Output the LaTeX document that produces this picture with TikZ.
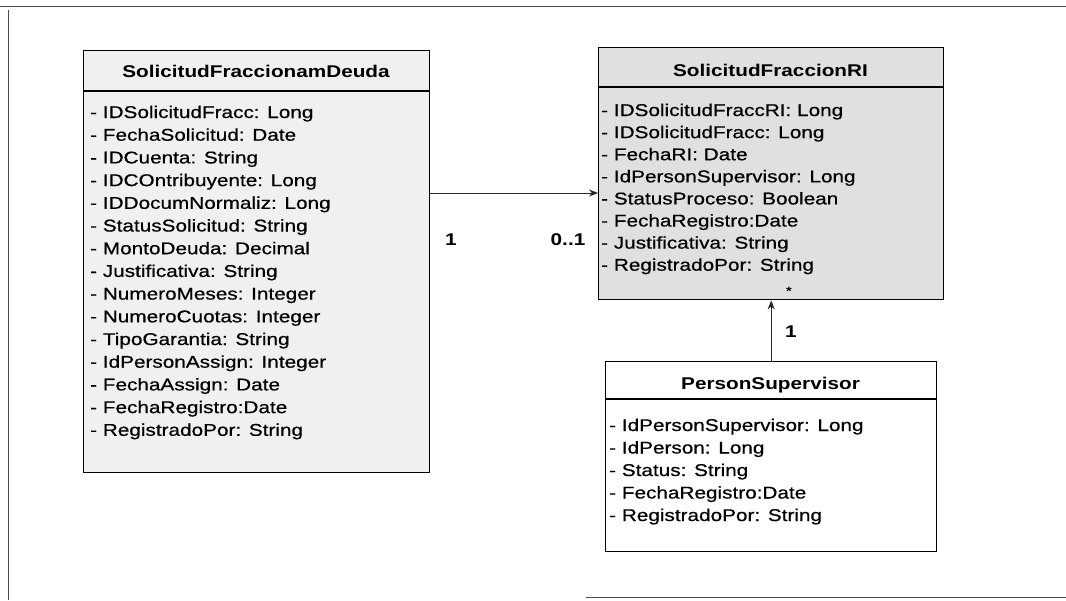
\documentclass[tikz,border=0pt]{standalone}
\usepackage{fontspec}
\newfontfamily\umlfont[FakeStretch=1.22]{Liberation Sans}
\newfontfamily\umlattrfont[FakeStretch=1.22,FakeBold=0.6]{Liberation Sans}
\usetikzlibrary{arrows.meta}
\tikzset{
  classbox/.style={draw=black, line width=1.4pt, anchor=north west, inner sep=0pt},
  ctitle/.style={font=\umlfont\fontsize{17}{20}\selectfont\bfseries, anchor=base, inner sep=0pt},
  attr/.style={font=\umlattrfont\fontsize{17}{20}\selectfont, anchor=base west, inner sep=0pt},
  mult/.style={font=\umlfont\fontsize{17}{20}\selectfont\bfseries, inner sep=0pt},
  assoc/.style={draw=black!85, line width=1pt, -{Stealth[length=9pt,width=7pt]}},
  frameline/.style={draw=black!70, line width=0.9pt}
}
\begin{document}
\begin{tikzpicture}[x=1pt,y=-1pt]
\useasboundingbox (0,0) rectangle (1066,600);
\fill[white] (0,0) rectangle (1066,600);
% scan frame
\draw[frameline] (0,6) -- (1066,6);
\draw[frameline] (8,10) -- (8,600);
\draw[frameline] (586,597) -- (1066,597);

% class SolicitudFraccionamDeuda
\node[classbox, fill=black!6, minimum width=346pt, minimum height=422pt] (A) at (83,50) {};
\draw[line width=1.4pt] ([yshift=-41pt]A.north west) -- ([yshift=-41pt]A.north east);
\node[ctitle] (At) at (256,77) {SolicitudFraccionamDeuda};
\foreach \t [count=\i] in {- IDSolicitudFracc: Long, - FechaSolicitud: Date, - IDCuenta: String, - IDCOntribuyente: Long, - IDDocumNormaliz: Long, - StatusSolicitud: String, - MontoDeuda: Decimal, - Justificativa: String, - NumeroMeses: Integer, - NumeroCuotas: Integer, - TipoGarantia: String, - IdPersonAssign: Integer, - FechaAssign: Date, - FechaRegistro:Date, - RegistradoPor: String}
  \node[attr] (A\i) at (90,{118+22.7*(\i-1)}) {\t};

% class SolicitudFraccionRI
\node[classbox, fill=black!12, minimum width=345pt, minimum height=252pt] (B) at (598,47) {};
\draw[line width=1.4pt] ([yshift=-40pt]B.north west) -- ([yshift=-40pt]B.north east);
\node[ctitle] (Bt) at (770.5,76) {SolicitudFraccionRI};
\foreach \t [count=\i] in {- IDSolicitudFraccRI: Long, - IDSolicitudFracc: Long, - FechaRI: Date, - IdPersonSupervisor: Long, - StatusProceso: Boolean, - FechaRegistro:Date, - Justificativa: String, - RegistradoPor: String}
  \node[attr] (B\i) at (601,{116+22.1*(\i-1)}) {\t};

% class PersonSupervisor
\node[classbox, fill=white, minimum width=331pt, minimum height=190pt] (C) at (605,361) {};
\draw[line width=1.4pt] ([yshift=-38pt]C.north west) -- ([yshift=-38pt]C.north east);
\node[ctitle] (Ct) at (770.5,389) {PersonSupervisor};
\foreach \t [count=\i] in {- IdPersonSupervisor: Long, - IdPerson: Long, - Status: String, - FechaRegistro:Date, - RegistradoPor: String}
  \node[attr] (C\i) at (609,{431+22.5*(\i-1)}) {\t};

% associations
\coordinate (ay) at (0,193);
\draw[assoc] (A.east |- ay) -- (B.west |- ay);
\draw[assoc] (C.north) -- (C.north |- B.south);

% multiplicities
\node[mult] (m1) at (451,240) {1};
\node[mult] (m2) at (568,240) {0..1};
\node[mult] (m3) at (791,332) {1};
\node[mult, font=\umlfont\fontsize{12}{14}\selectfont\bfseries] (m4) at (789,291) {*};
\end{tikzpicture}
\end{document}
